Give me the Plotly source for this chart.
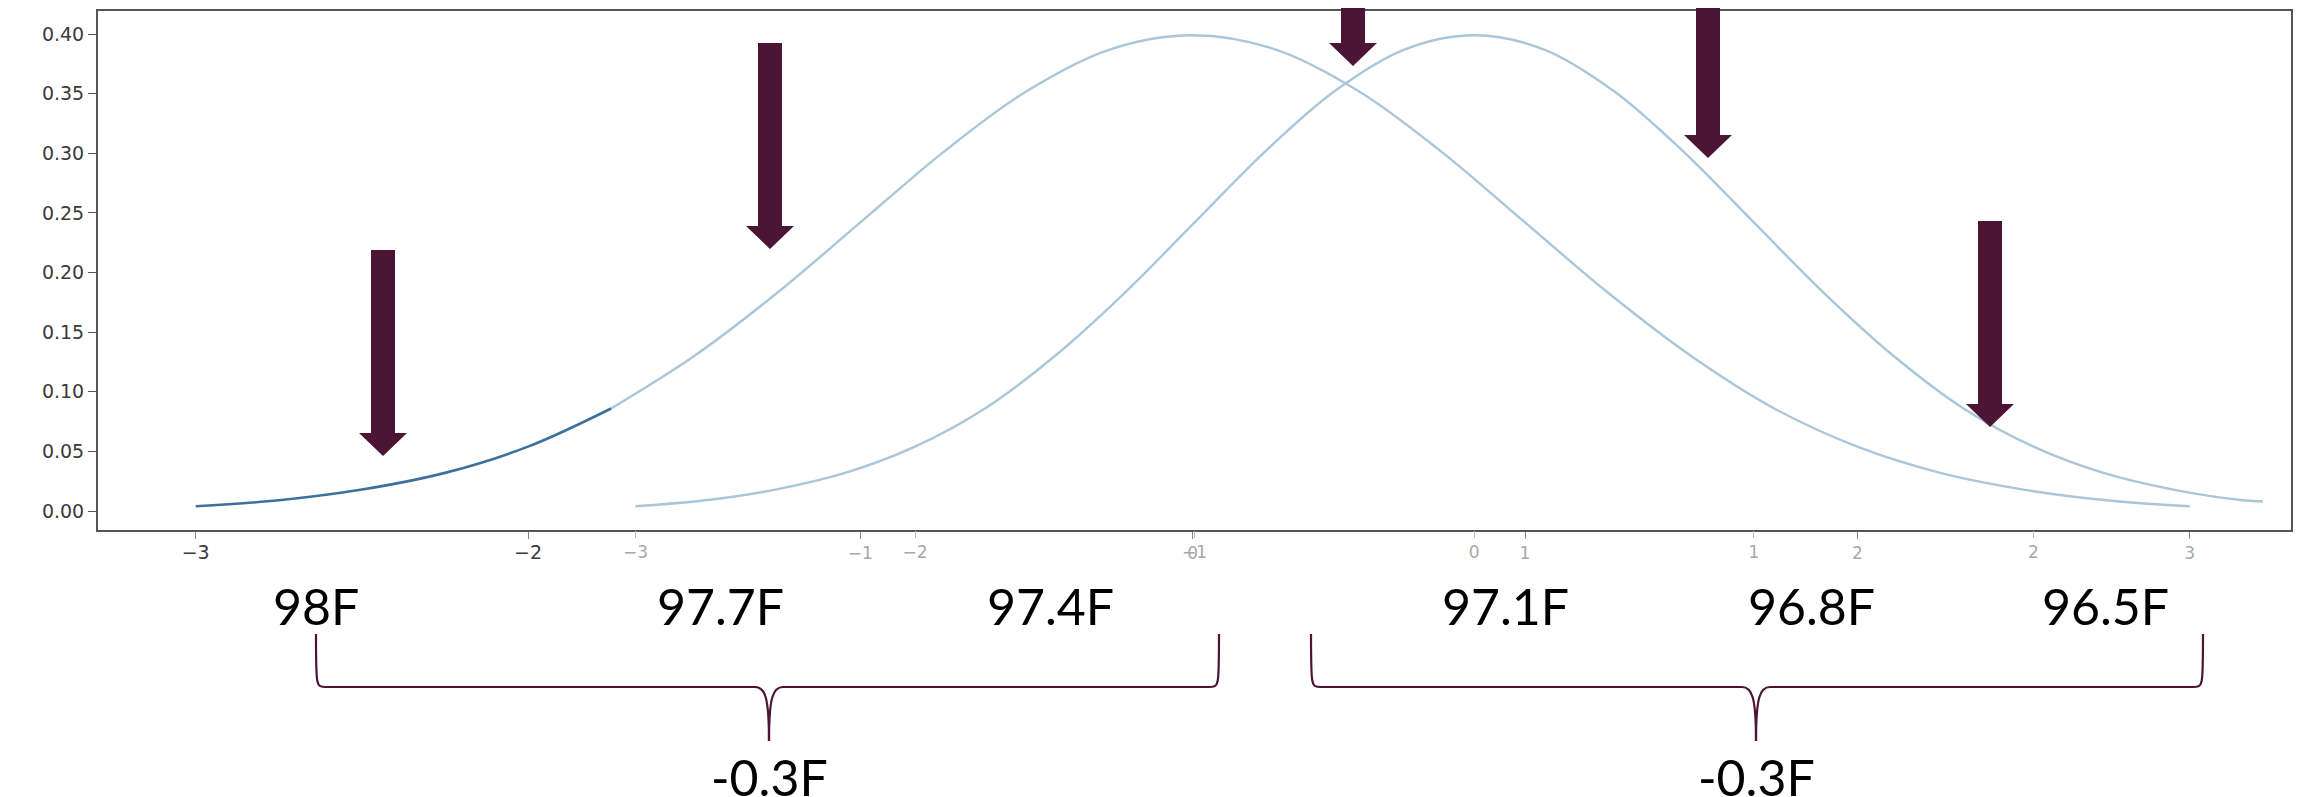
import plotly.graph_objects as go

# curve A: left bell, on the lower-left x axis (units -3..3)
a_x = [-3.0, -2.75, -2.5, -2.25, -2.0, -1.75, -1.5, -1.25, -1.0, -0.75, -0.5, -0.25, 0.0,
       0.25, 0.5, 0.75, 1.0, 1.25, 1.5, 1.75, 2.0, 2.25, 2.5, 2.75, 3.0]
a_y = [0.004, 0.009, 0.018, 0.032, 0.054, 0.086, 0.130, 0.183, 0.242, 0.301, 0.352, 0.387, 0.399,
       0.387, 0.352, 0.301, 0.242, 0.183, 0.130, 0.086, 0.054, 0.032, 0.018, 0.009, 0.004]
a_dark_n = 6  # first points are drawn darker (pasted from the original plot)

# curve B: right bell, on the second overlaid x axis
b_x = [-3.0, -2.75, -2.5, -2.25, -2.0, -1.75, -1.5, -1.25, -1.0, -0.75, -0.5, -0.25, 0.0,
       0.25, 0.5, 0.75, 1.0, 1.25, 1.5, 1.75, 2.0, 2.25, 2.5, 2.75, 2.82]
b_y = [0.004, 0.009, 0.018, 0.032, 0.054, 0.086, 0.130, 0.183, 0.242, 0.301, 0.352, 0.387, 0.399,
       0.387, 0.352, 0.301, 0.242, 0.183, 0.130, 0.086, 0.054, 0.032, 0.018, 0.009, 0.008]

a_ticks = [-3, -2, -1, 0, 1, 2, 3]
a_dark_ticks = [-3, -2]
b_ticks = [-3, -2, -1, 0, 1, 2]
y_ticks = [0.0, 0.05, 0.10, 0.15, 0.20, 0.25, 0.30, 0.35, 0.40]

temps = ["98F", "97.7F", "97.4F", "97.1F", "96.8F", "96.5F"]
diff_labels = ["-0.3F", "-0.3F"]

# the page body has an 8px margin, so the figure is shrunk and positions shifted by it
OFF = 8
W, H = 2303 - OFF, 797 - OFF
MAROON = "#4d1535"
LIGHT = "#aac6da"


def px(x):
    return (x - OFF) / W


def py(y):
    return 1 - (y - OFF) / H


def tick_label(v, dark):
    s = str(v).replace("-", "\u2212")
    if dark:
        return f'<span style="color:#3a3a3a;font-size:19px">{s}</span>'
    return f'<span style="color:#a8a8a8">{s}</span>'


fig = go.Figure()
fig.add_scatter(x=a_x[a_dark_n - 1:], y=a_y[a_dark_n - 1:], mode="lines", line=dict(color=LIGHT, width=2.4, shape="spline"), xaxis="x", yaxis="y")
fig.add_scatter(x=a_x[:a_dark_n], y=a_y[:a_dark_n], mode="lines", line=dict(color="#3d719b", width=2.6, shape="spline"), xaxis="x", yaxis="y")
fig.add_scatter(x=b_x, y=b_y, mode="lines", line=dict(color=LIGHT, width=2.4, shape="spline"), xaxis="x2", yaxis="y")

dom_x = [px(98), px(2291)]
dom_y = [py(530), py(11)]

fig.update_layout(
    width=W, height=H, autosize=False,
    margin=dict(l=0, r=0, t=0, b=0),
    paper_bgcolor="white", plot_bgcolor="white",
    showlegend=False,
    font=dict(family="DejaVu Sans", color="#3a3a3a"),
    xaxis=dict(
        domain=dom_x, range=[-3.294, 3.305],
        tickvals=a_ticks, ticktext=[tick_label(v, v in a_dark_ticks) for v in a_ticks],
        ticks="outside", ticklen=7, tickcolor="#888", tickfont=dict(size=17),
        showgrid=False, zeroline=False,
        showline=True, linecolor="#555", linewidth=2, mirror=True,
    ),
    xaxis2=dict(
        domain=dom_x, range=[-4.922, 2.921], overlaying="x", side="bottom", anchor="y",
        tickvals=b_ticks, ticktext=[tick_label(v, False) for v in b_ticks],
        ticks="outside", ticklen=7, tickcolor="#bbb", tickfont=dict(size=17),
        showgrid=False, zeroline=False, showline=False,
    ),
    yaxis=dict(
        domain=dom_y, range=[-0.0159, 0.4193],
        tickvals=y_ticks, tickformat=".2f",
        ticks="outside", ticklen=8, tickcolor="#555", tickfont=dict(size=19, color="#3a3a3a"),
        showgrid=False, zeroline=False,
        showline=True, linecolor="#555", linewidth=2, mirror=True,
    ),
)

# downward arrows: (centre x, shaft top y, tip y) in page pixels
arrows = [(383, 250, 456), (770, 43, 249), (1353, 0, 66), (1708, 0, 158), (1990, 221, 427)]
shaft_hw, head_hw, head_len = 12, 24, 23
for cx, top, tip in arrows:
    hy = tip - head_len
    pts = [(cx - shaft_hw, top), (cx + shaft_hw, top), (cx + shaft_hw, hy), (cx + head_hw, hy),
           (cx, tip), (cx - head_hw, hy), (cx - shaft_hw, hy)]
    path = "M " + " L ".join(f"{px(x):.5f},{py(y):.5f}" for x, y in pts) + " Z"
    fig.add_shape(type="path", path=path, xref="paper", yref="paper",
                  fillcolor=MAROON, line=dict(width=0))

# temperature labels
temp_x = [316, 720, 1050, 1505, 1812, 2105]
for t, x in zip(temps, temp_x):
    fig.add_annotation(x=px(x), y=py(606), xref="paper", yref="paper", text=t, showarrow=False,
                       font=dict(family="Lato", size=50, color="black"), xanchor="center", yanchor="middle")

# curly braces: (left x, right x, centre x)
braces = [(316, 1219, 769), (1311, 2203, 1756)]
yt, yh, ytip = 634, 687, 741
for (xl, xr, xc), lab in zip(braces, diff_labels):
    for x0, sgn in ((xl, 1), (xr, -1)):
        p = [
            f"M {px(x0):.5f},{py(yt):.5f}",
            f"C {px(x0):.5f},{py(yh):.5f} {px(x0):.5f},{py(yh):.5f} {px(x0 + sgn * 10):.5f},{py(yh):.5f}",
            f"L {px(xc - sgn * 14):.5f},{py(yh):.5f}",
            f"C {px(xc - sgn * 4):.5f},{py(yh):.5f} {px(xc):.5f},{py(yh + 10):.5f} {px(xc):.5f},{py(ytip):.5f}",
        ]
        fig.add_shape(type="path", path=" ".join(p), xref="paper", yref="paper",
                      line=dict(color=MAROON, width=2.2))
    fig.add_annotation(x=px(xc), y=py(777), xref="paper", yref="paper", text=lab, showarrow=False,
                       font=dict(family="Lato", size=50, color="black"), xanchor="center", yanchor="middle")

fig.write_html("out.html")
